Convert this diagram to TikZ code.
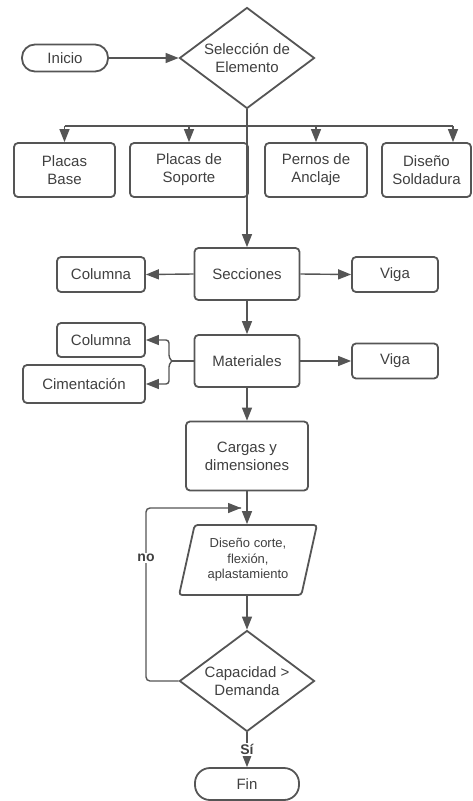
\documentclass[tikz,border=0pt]{standalone}
\usepackage{fontspec}
\setmainfont{Liberation Sans}
\usetikzlibrary{shapes.geometric,arrows.meta}
\definecolor{lineg}{HTML}{555555}
\definecolor{textg}{HTML}{404040}
\begin{document}
\begin{tikzpicture}[x=1pt,y=-1pt,
  font=\fontsize{15}{18}\selectfont, text=textg,
  base/.style={draw=lineg,line width=1.8pt,align=center,inner sep=1pt},
  term/.style={base,rounded corners=13pt,minimum height=27pt},
  box/.style={base,rounded corners=4pt,minimum height=54pt},
  sub/.style={base,rounded corners=4pt,minimum height=35pt},
  dec/.style={base,diamond,shape aspect=1.34,minimum width=135pt,
    minimum height=101pt,inner sep=0pt},
  io/.style={base,trapezium,trapezium left angle=75,trapezium right angle=105,
    trapezium stretches,minimum width=138pt,minimum height=70pt,
    rounded corners=3pt,font=\fontsize{13}{15.5}\selectfont},
  lnk/.style={draw=lineg,line width=1.4pt},
  arr/.style={lnk,-{Triangle[length=13pt,width=10pt]}},
  lbl/.style={fill=white,inner sep=1.5pt,font=\fontsize{14}{16}\selectfont\bfseries}]
\useasboundingbox[fill=white] (0,0) rectangle (473,801);

% inicio y seleccion
\node[term,minimum width=86pt] (inicio) at (65,58) {Inicio};
\node[dec] (sel) at (247,58) {Selección de\\Elemento};

% elementos
\node[box,minimum width=101pt] (pb) at (64.5,170) {Placas\\Base};
\node[box,minimum width=118pt] (ps) at (189,170) {Placas de\\Soporte};
\node[box,minimum width=102pt] (pa) at (316,170) {Pernos de\\Anclaje};
\node[box,minimum width=89pt] (ds) at (426.5,170) {Diseño\\Soldadura};

% secciones y materiales
\node[box,minimum width=105pt,minimum height=52pt] (secc) at (247,274) {Secciones};
\node[sub,minimum width=88pt] (colA) at (101,274.5) {Columna};
\node[sub,minimum width=86pt] (vigaA) at (395,274.5) {Viga};
\node[box,minimum width=105pt,minimum height=52pt] (mat) at (247,361) {Materiales};
\node[sub,minimum width=88pt,minimum height=34pt] (colB) at (101,340) {Columna};
\node[sub,minimum width=122pt,minimum height=38pt] (cim) at (84,384) {Cimentación};
\node[sub,minimum width=86pt] (vigaB) at (395,361) {Viga};

% diseno
\node[box,minimum width=122pt,minimum height=69pt] (cargas) at (247,456) {Cargas y\\dimensiones};
\node[io] (dis) at (248,560) {Diseño corte,\\flexión,\\aplastamiento};
\node[dec] (dec) at (247,681) {Capacidad >\\Demanda};
\node[term,minimum width=104pt,minimum height=32pt,rounded corners=15pt] (fin) at (247,784) {Fin};

\coordinate (bus) at (247,126);
\coordinate (busR) at (453,126);
\coordinate (br) at (172,361);
\coordinate (lp) at (146,508);
\coordinate (lj) at (241,508);

\draw[arr] (inicio.east) -- (sel.west);
\draw[lnk] (bus -| pb.north) -- (busR);
\draw[arr] (bus -| pb.north) -- (pb.north);
\draw[arr] (bus -| ps.north) -- (ps.north);
\draw[arr] (bus -| pa.north) -- (pa.north);
\draw[arr] (busR) -- (busR |- ds.north);
\draw[arr] (sel.south) -- (secc.north);

\draw[arr] (secc.west) -- (colA.east);
\draw[arr] (secc.east) -- (vigaA.west);
\draw[arr] (secc.south) -- (mat.north);
\draw[arr] (mat.east) -- (vigaB.west);
\draw[lnk] (mat.west) -- (br);
\draw[arr,rounded corners=3pt] (br) -- ++(-3,-3) |- (colB.east);
\draw[arr,rounded corners=3pt] (br) -- ++(-3,3) |- (cim.east);

\draw[arr] (mat.south) -- (cargas.north);
\draw[arr] (cargas.south) -- (dis.north -| cargas.south);
\draw[arr] (dis.south -| dec.north) -- (dec.north);
\draw[lnk,rounded corners=4pt] (dec.west) -| (lp) -- (lj);
\draw[arr] ([xshift=-2pt]lj) -- (lj);
\node[lbl] (no) at (146,558) {no};
\draw[arr] (dec.south) -- node[lbl] (si) {Sí} (fin.north);
\end{tikzpicture}
\end{document}
